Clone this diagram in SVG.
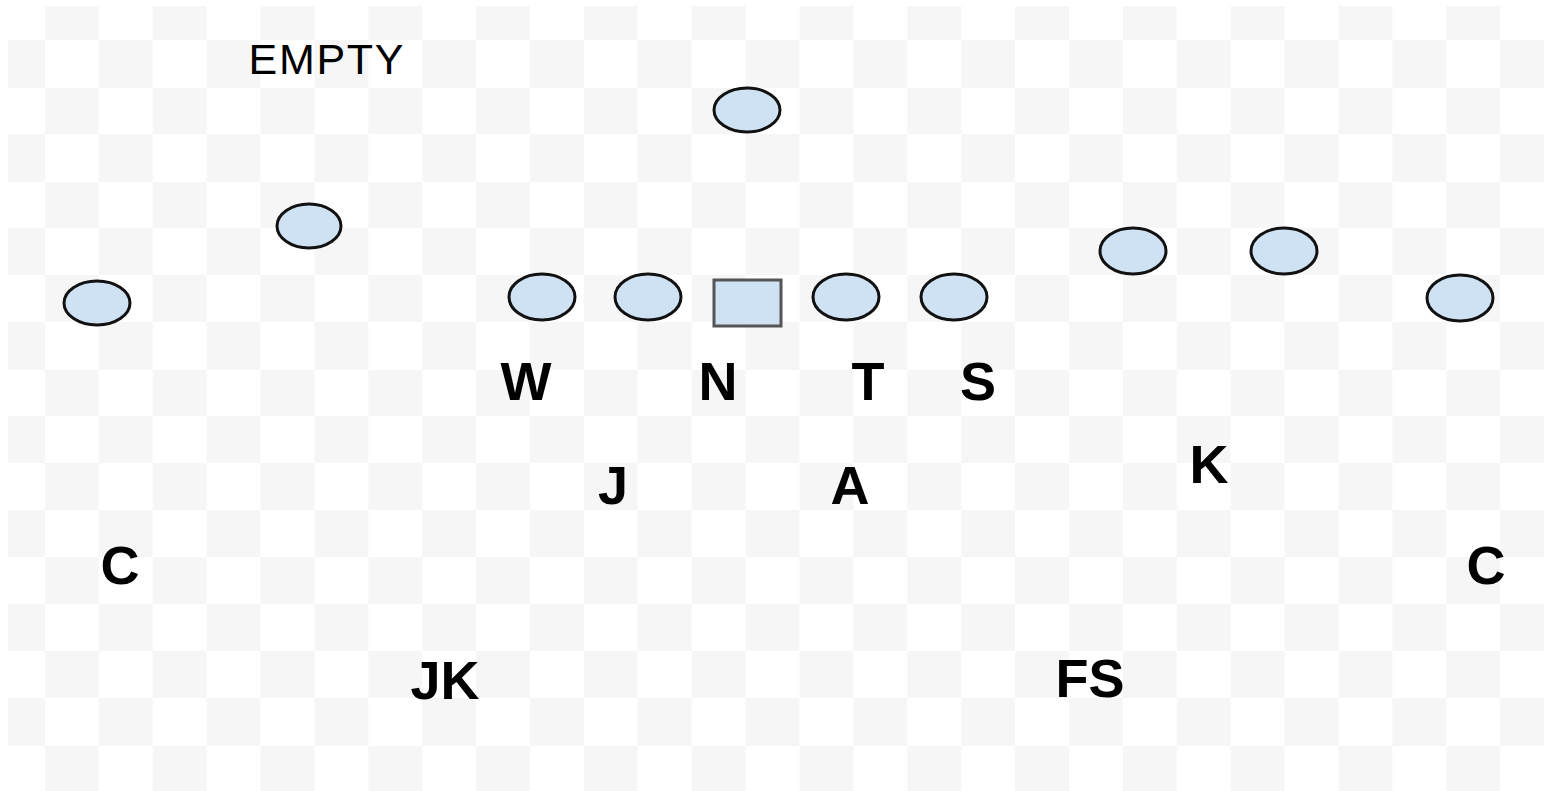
<svg xmlns="http://www.w3.org/2000/svg" width="1544" height="791" viewBox="0 0 1544 791">
  <style>
    .p { fill: #cfe2f3; stroke: #111; stroke-width: 3; }
    .c { fill: #cfe2f3; stroke: #555; stroke-width: 3; }
    .l { font-family: "Liberation Sans", Arial, sans-serif; font-weight: bold; font-size: 54px; fill: #000; text-anchor: middle; }
    .t { font-family: "Liberation Sans", Arial, sans-serif; font-size: 43px; fill: #000; text-anchor: middle; }
  </style>
  <defs>
    <pattern id="checker" patternUnits="userSpaceOnUse" x="-9" y="-7" width="107.8" height="94">
      <rect x="53.9" y="0" width="53.9" height="47" fill="#f6f6f6"/>
      <rect x="0" y="47" width="53.9" height="47" fill="#f6f6f6"/>
    </pattern>
  </defs>
  <g id="background">
    <rect width="1544" height="791" fill="#ffffff"/>
    <rect width="1544" height="791" fill="url(#checker)"/>
    <rect x="0" y="0" width="1544" height="6" fill="#ffffff"/>
    <rect x="0" y="0" width="8" height="791" fill="#ffffff"/>
  </g>
  <g id="title"><text class="t" x="326" y="74" textLength="155">EMPTY</text></g>
  <g id="qb"><ellipse class="p" cx="747" cy="110" rx="33" ry="22"/></g>
  <g id="slot-left"><ellipse class="p" cx="309" cy="226" rx="32" ry="22"/></g>
  <g id="wr-left"><ellipse class="p" cx="97" cy="303" rx="33" ry="22"/></g>
  <g id="lt"><ellipse class="p" cx="542" cy="297" rx="33" ry="23"/></g>
  <g id="lg"><ellipse class="p" cx="648" cy="297" rx="33" ry="23"/></g>
  <g id="center"><rect class="c" x="714" y="280" width="67" height="46"/></g>
  <g id="rg"><ellipse class="p" cx="846" cy="297" rx="33" ry="23"/></g>
  <g id="rt"><ellipse class="p" cx="954" cy="297" rx="33" ry="23"/></g>
  <g id="slot-right1"><ellipse class="p" cx="1133" cy="251" rx="33" ry="23"/></g>
  <g id="slot-right2"><ellipse class="p" cx="1284" cy="251" rx="33" ry="23"/></g>
  <g id="wr-right"><ellipse class="p" cx="1460" cy="298" rx="33" ry="23"/></g>
  <g id="label-W"><text class="l" x="526" y="400">W</text></g>
  <g id="label-N"><text class="l" x="718" y="400">N</text></g>
  <g id="label-T"><text class="l" x="868" y="400">T</text></g>
  <g id="label-S"><text class="l" x="978" y="400">S</text></g>
  <g id="label-J"><text class="l" x="613" y="504">J</text></g>
  <g id="label-A"><text class="l" x="850" y="504">A</text></g>
  <g id="label-K"><text class="l" x="1209" y="483">K</text></g>
  <g id="label-C-left"><text class="l" x="120" y="584">C</text></g>
  <g id="label-C-right"><text class="l" x="1486" y="584">C</text></g>
  <g id="label-JK"><text class="l" x="445" y="699">JK</text></g>
  <g id="label-FS"><text class="l" x="1090" y="697">FS</text></g>
</svg>
